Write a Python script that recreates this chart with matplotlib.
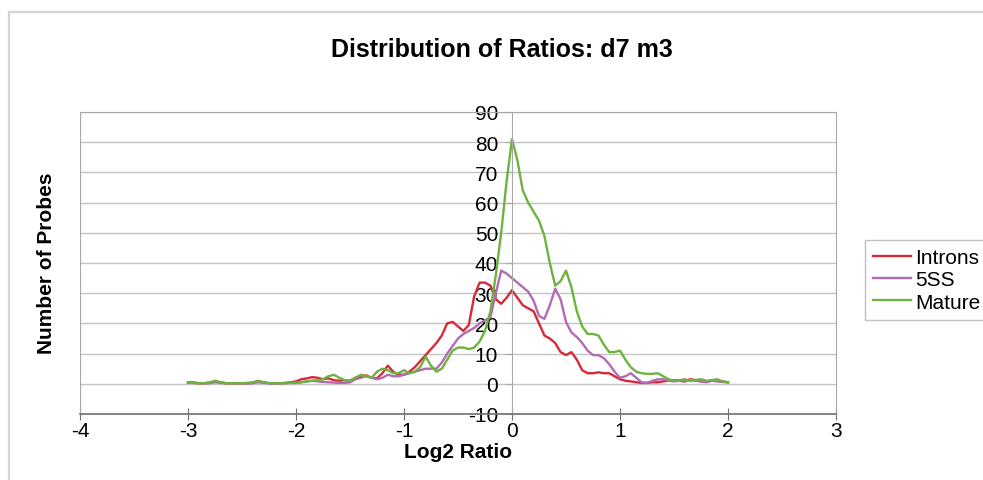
import numpy as np
import matplotlib
matplotlib.use("Agg")
import matplotlib.pyplot as plt
from matplotlib.lines import Line2D

plt.rcParams['font.family'] = ['Liberation Sans', 'DejaVu Sans']

# Bins of log2 ratio, -3.00 .. 2.00 in steps of 0.05
log2_ratio = np.round(np.arange(-3.0, 2.0001, 0.05), 2)

introns = [
    0.5, 0.3, 0.2, 0.2, 0.3, 0.8, 0.5, 0.2, 0.2, 0.2, 0.2, 0.2, 0.3, 0.8, 0.5, 0.2, 0.2, 0.2, 0.3, 0.5, 0.8,
    1.5, 1.8, 2.2, 2.0, 1.5, 1.8, 1.2, 1.0, 1.2, 1.0, 2.0, 2.5, 2.8, 2.0, 1.8, 3.5, 6.0, 4.0, 3.0, 3.0,
    4.0, 5.5, 7.5, 9.5, 11.5, 13.5, 16.0, 20.0, 20.5, 19.0, 17.5, 19.5, 29.0, 33.5, 33.5, 32.5, 28.0, 26.5, 28.5, 31.0,
    28.5, 26.0, 25.0, 24.0, 20.0, 16.0, 15.0, 13.5, 10.5, 9.5, 10.5, 8.0, 4.5, 3.5, 3.5, 3.8, 3.5, 3.5, 2.5, 1.5,
    1.0, 0.8, 0.5, 0.3, 0.3, 0.5, 0.5, 0.8, 1.0, 1.2, 1.0, 0.8, 1.5, 1.2, 0.8, 0.6, 1.2, 1.0, 0.8, 0.5,
]

five_ss = [
    0.3, 0.5, 0.2, 0.2, 0.2, 0.5, 0.3, 0.2, 0.2, 0.2, 0.2, 0.2, 0.2, 0.5, 0.3, 0.2, 0.2, 0.2, 0.2, 0.3, 0.3,
    0.5, 0.8, 1.0, 0.8, 0.6, 0.5, 0.4, 0.3, 0.3, 0.5, 1.5, 2.0, 2.5, 2.0, 1.5, 2.0, 3.0, 2.5, 2.5, 3.0,
    3.5, 4.0, 4.5, 5.0, 5.0, 5.0, 7.0, 10.0, 12.5, 15.0, 16.5, 17.5, 18.5, 20.0, 21.0, 22.0, 30.0, 37.5, 36.5, 35.0,
    33.5, 32.0, 30.5, 27.5, 22.5, 21.5, 26.0, 31.5, 28.0, 20.5, 17.0, 15.5, 13.5, 11.0, 9.5, 9.5, 8.5, 6.5, 4.0, 2.0,
    2.5, 3.5, 2.0, 0.5, 0.3, 1.0, 1.5, 1.5, 1.0, 0.8, 1.0, 0.8, 1.2, 1.0, 0.8, 0.5, 1.0, 0.8, 0.6, 0.5,
]

mature = [
    0.5, 0.3, 0.2, 0.2, 0.5, 1.0, 0.5, 0.2, 0.2, 0.2, 0.2, 0.3, 0.5, 1.0, 0.5, 0.2, 0.2, 0.2, 0.2, 0.3, 0.3,
    0.5, 0.8, 1.0, 1.2, 1.5, 2.5, 3.0, 2.0, 1.2, 1.0, 2.0, 3.0, 2.5, 2.0, 4.0, 5.0, 4.5, 3.5, 3.5, 4.5,
    3.5, 4.0, 5.5, 9.0, 6.0, 4.0, 5.0, 8.0, 11.0, 12.0, 12.0, 11.5, 12.0, 14.0, 17.5, 24.0, 36.0, 50.0, 67.0, 81.0,
    74.0, 64.0, 60.0, 57.0, 54.0, 49.0, 40.0, 32.5, 34.0, 37.5, 32.0, 24.0, 19.0, 16.5, 16.5, 16.0, 13.0, 10.5, 10.5, 11.0,
    8.0, 5.5, 4.0, 3.5, 3.3, 3.3, 3.5, 2.5, 1.5, 1.0, 1.2, 1.5, 1.0, 1.3, 1.5, 1.0, 1.2, 1.5, 0.8, 0.5,
]

series_names = ['Introns', '5SS', 'Mature']
series_colors = ['#d82a36', '#b46ab4', '#6cb33f']

x_ticks = [-4, -3, -2, -1, 0, 1, 2, 3]
y_ticks = [-10, 0, 10, 20, 30, 40, 50, 60, 70, 80, 90]

W, H = 983, 481
fig = plt.figure(figsize=(W / 100, H / 100), dpi=100)
fig.patch.set_facecolor('white')

# outer chart frame
fig.add_artist(Line2D([9 / W, 9 / W], [0, 1 - 13 / H], color='#d4d4d4', lw=1.6))
fig.add_artist(Line2D([9 / W, 1], [1 - 13 / H, 1 - 13 / H], color='#d4d4d4', lw=1.6))

left, right, top, bottom = 80, 836, 113, 415
ax = fig.add_axes([left / W, 1 - bottom / H, (right - left) / W, (bottom - top) / H])
ax.set_xlim(-4, 3)
ax.set_ylim(-10, 90)

ax.yaxis.grid(True, color='#c4c4c4', lw=1.0)
ax.set_axisbelow(True)

for vals, name, col in zip([introns, five_ss, mature], series_names, series_colors):
    ax.plot(log2_ratio, vals, color=col, lw=1.7, label=name)

ax.spines['left'].set_position(('data', 0))
ax.spines['left'].set_color('#a8a8a8')
ax.spines['bottom'].set_color('#707070')
ax.spines['bottom'].set_linewidth(1.2)
ax.spines['top'].set_color('#a8a8a8')
ax.spines['right'].set_color('#a8a8a8')
ax.axvline(-4, color='#a8a8a8', lw=1.6)

ax.set_xticks(x_ticks)
ax.set_xticklabels([str(t) for t in x_ticks])
ax.set_yticks(y_ticks)
ax.set_yticklabels([str(t) for t in y_ticks])
ax.tick_params(axis='x', direction='inout', length=8, color='#707070', labelsize=15, pad=1)
ax.tick_params(axis='y', direction='out', length=5, color='#a8a8a8', labelsize=15, pad=5)

fig.text(502 / W, 1 - 50 / H, 'Distribution of Ratios: d7 m3', ha='center', va='center',
         fontsize=18, fontweight='bold')
fig.text(47 / W, 1 - 263 / H, 'Number of Probes', ha='center', va='center', rotation=90,
         fontsize=15, fontweight='bold')
fig.text(458 / W, 1 - 452 / H, 'Log2 Ratio', ha='center', va='center',
         fontsize=15, fontweight='bold')

handles, labels = ax.get_legend_handles_labels()
leg = fig.legend(handles, labels, loc='center left', bbox_to_anchor=(865 / W, 1 - 281 / H),
                 frameon=True, fancybox=False, edgecolor='#b0b0b0', fontsize=15,
                 handlelength=1.8, handletextpad=0.2, labelspacing=0.15, borderpad=0.4,
                 borderaxespad=0)
leg.get_frame().set_linewidth(1.0)

fig.savefig('out.png', dpi=100)
